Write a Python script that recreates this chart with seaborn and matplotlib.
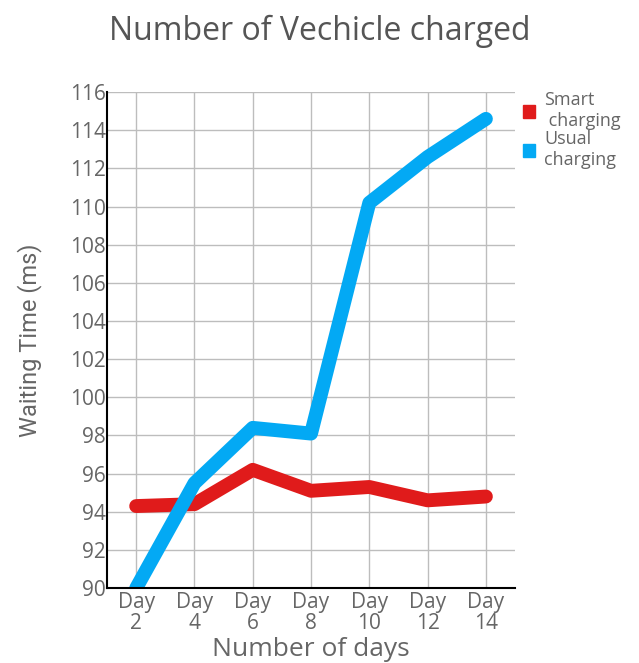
import matplotlib
matplotlib.use('Agg')
import pandas as pd
import matplotlib.pyplot as plt
import seaborn as sns

sns.set_style("whitegrid")
plt.rcParams['font.family'] = ['Open Sans', 'DejaVu Sans']

days = ["Day\n2", "Day\n4", "Day\n6", "Day\n8", "Day\n10", "Day\n12", "Day\n14"]
smart = [94.3, 94.4, 96.2, 95.1, 95.3, 94.6, 94.8]
usual = [90.0, 95.5, 98.4, 98.1, 110.2, 112.6, 114.6]
series = ["Smart\n charging", "Usual\ncharging"]
colors = ["#e01b1b", "#03a9f4"]
yticks = list(range(90, 117, 2))

df = pd.DataFrame({
    "day": days * 2,
    "pos": list(range(len(days))) * 2,
    "value": smart + usual,
    "series": [series[0]] * len(days) + [series[1]] * len(days),
})

fig = plt.figure(figsize=(6.39, 6.63), dpi=100)
ax = fig.add_axes([0.1675, 0.113, 0.6385, 0.748])

sns.lineplot(data=df, x="pos", y="value", hue="series", palette=colors,
             linewidth=10, ax=ax, legend=False, sort=False)
for ln in ax.get_lines():
    ln.set_solid_capstyle('round')
    ln.set_solid_joinstyle('round')

ax.set_xlim(-0.5, len(days) - 0.5)
ax.set_ylim(90, 116)
ax.set_xticks(range(len(days)))
ax.set_xticklabels(days, fontsize=15, color="#666666", linespacing=1.0)
ax.set_yticks(yticks)
ax.set_yticklabels([str(v) for v in yticks], fontsize=15, color="#666666")
ax.tick_params(axis='x', length=0, pad=3)
ax.tick_params(axis='y', length=0, pad=1)
ax.grid(True, color="#bdbdbd", linewidth=1)
for s in ["top", "right"]:
    ax.spines[s].set_visible(False)
for s in ["left", "bottom"]:
    ax.spines[s].set_color("black")
    ax.spines[s].set_linewidth(1.5)

ax.set_xlabel("Number of days", fontsize=19, color="#666666", labelpad=2)
ax.set_ylabel("Waiting Time (ms)", fontsize=17, color="#666666", labelpad=20,
              family=['Roboto', 'DejaVu Sans'])
fig.suptitle("Number of Vechicle charged", fontsize=23, color="#555555", y=0.978)

handles = [plt.Rectangle((0, 0), 1, 1, color=c) for c in colors]
fig.legend(handles, series, loc="upper left", bbox_to_anchor=(0.818, 0.862),
           frameon=False, labelcolor="#666666", handlelength=0.7,
           handleheight=0.7, handletextpad=0.5, labelspacing=0.0,
           borderaxespad=0, borderpad=0, prop={'size': 13, 'family': 'Open Sans'})

fig.savefig("out.png", dpi=100)
